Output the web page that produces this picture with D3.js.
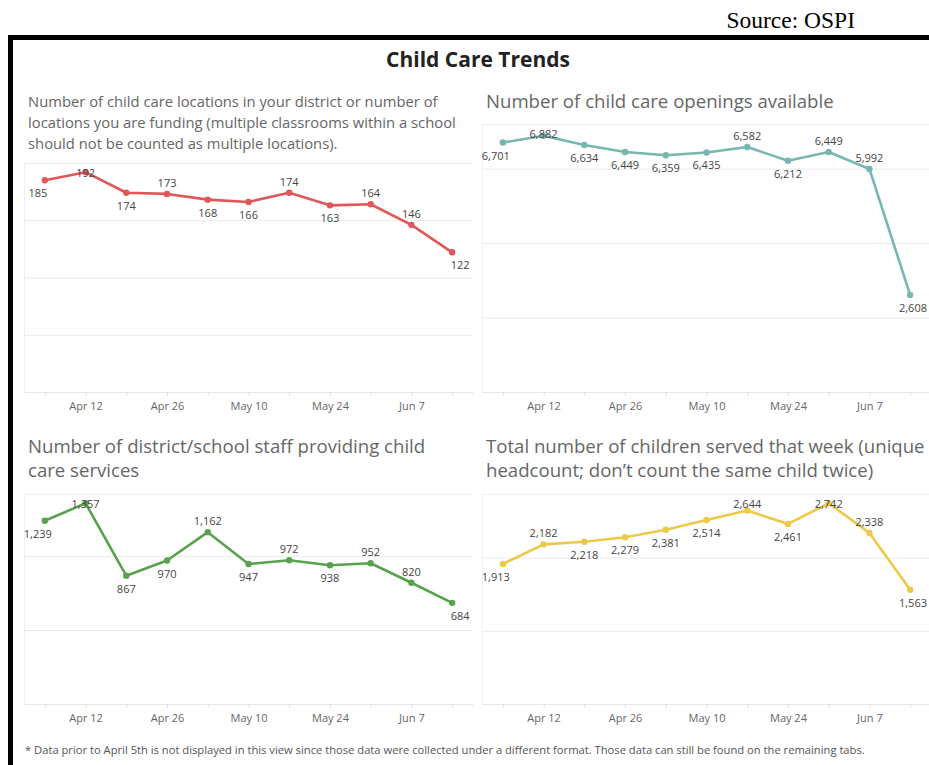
<!DOCTYPE html>
<html>
<head>
<meta charset="utf-8">
<script src="https://cdn.jsdelivr.net/npm/d3@7"></script>
<style>
  body { margin: 0; background: #fff; }
  svg { display: block; font-family: "Open Sans", sans-serif; }
</style>
</head>
<body>
<div id="chart"></div>
<script>
// week-of dates for each report (weekly, starting Apr 5)
var weeks = ["2020-04-05", "2020-04-12", "2020-04-19", "2020-04-26", "2020-05-03", "2020-05-10",
             "2020-05-17", "2020-05-24", "2020-05-31", "2020-06-07", "2020-06-14"];
// labelled ticks on the date axis
var tickDates = ["2020-04-12", "2020-04-26", "2020-05-10", "2020-05-24", "2020-06-07"];

var locations = [185, 192, 174, 173, 168, 166, 174, 163, 164, 146, 122];
var openings  = [6701, 6882, 6634, 6449, 6359, 6435, 6582, 6212, 6449, 5992, 2608];
var staff     = [1239, 1357, 867, 970, 1162, 947, 972, 938, 952, 820, 684];
var children  = [1913, 2182, 2218, 2279, 2381, 2514, 2644, 2461, 2742, 2338, 1563];

var parse = d3.timeParse("%Y-%m-%d");
var dates = weeks.map(parse);
var tickSet = tickDates.map(function(d) { return +parse(d); });
var fmtDate = d3.timeFormat("%b %-d");
var fmtNum = d3.format(",");

var width = 929, height = 765;

var svg = d3.select("#chart").append("svg")
    .attr("width", width)
    .attr("height", height);

// heavy black frame (top + left)
svg.append("path")
    .attr("d", "M10.5," + height + " V37.5 H" + width)
    .attr("fill", "none")
    .attr("stroke", "#000")
    .attr("stroke-width", 5);

svg.append("text")
    .attr("x", 855)
    .attr("y", 28)
    .attr("text-anchor", "end")
    .style("font-family", "'Liberation Serif', 'Times New Roman', serif")
    .style("font-size", "23.5px")
    .attr("fill", "#000")
    .text("Source: OSPI");

svg.append("text")
    .attr("x", 478)
    .attr("y", 67)
    .attr("text-anchor", "middle")
    .style("font-size", "21px")
    .style("font-weight", "bold")
    .attr("fill", "#222")
    .text("Child Care Trends");

var panels = [
  { values: locations, color: "#e15759", x0: 24, x1: 473, top: 163, bottom: 392, max: 200, step: 50,
    title: ["Number of child care locations in your district or number of",
            "locations you are funding (multiple classrooms within a school",
            "should not be counted as multiple locations)."],
    tx: 28, ty: 106.5, fs: 14.8, lh: 21 },
  { values: openings, color: "#76b7b2", x0: 482, x1: 931, top: 124, bottom: 392, max: 7200, step: 2000,
    title: ["Number of child care openings available"],
    tx: 486, ty: 108, fs: 18.6, lh: 23 },
  { values: staff, color: "#59a14f", x0: 24, x1: 473, top: 494, bottom: 704, max: 1420, step: 500,
    title: ["Number of district/school staff providing child", "care services"],
    tx: 28, ty: 452.5, fs: 18.6, lh: 24 },
  { values: children, color: "#edc948", x0: 482, x1: 931, top: 494, bottom: 704, max: 2870, step: 1000,
    title: ["Total number of children served that week (unique",
            "headcount; don\u2019t count the same child twice)"],
    tx: 486, ty: 452.5, fs: 18.6, lh: 24 }
];

panels.forEach(function(p) {
  var g = svg.append("g");
  var n = dates.length;

  var x = d3.scaleTime()
      .domain([d3.timeHour.offset(dates[0], -86), d3.timeHour.offset(dates[n - 1], 86)])
      .range([p.x0, p.x1]);
  var y = d3.scaleLinear()
      .domain([0, p.max])
      .range([p.bottom, p.top]);

  // panel title
  var t = g.append("text")
      .attr("fill", "#666")
      .style("font-size", p.fs + "px");
  p.title.forEach(function(line, i) {
    t.append("tspan").attr("x", p.tx).attr("y", p.ty + i * p.lh).text(line);
  });

  // gridlines
  g.append("g")
      .attr("transform", "translate(" + p.x0 + ",0)")
      .call(d3.axisLeft(y).tickValues(d3.range(p.step, p.max + 1, p.step))
        .tickSize(-(p.x1 - p.x0)).tickFormat(""))
      .call(function(a) {
        a.select(".domain").attr("stroke", "#efefef");
        a.selectAll(".tick line").attr("stroke", "#ebebeb");
      });

  // date axis
  g.append("g")
      .attr("transform", "translate(0," + p.bottom + ")")
      .call(d3.axisBottom(x).tickValues(dates).tickSize(4).tickSizeOuter(0).tickPadding(6)
        .tickFormat(function(d) { return tickSet.indexOf(+d) >= 0 ? fmtDate(d) : ""; }))
      .call(function(a) {
        a.select(".domain").attr("stroke", "#e6e6e6");
        a.selectAll(".tick line").attr("stroke", "#e2e2e2");
        a.selectAll(".tick text").attr("fill", "#666").style("font-size", "11px")
          .style("font-family", "'Open Sans', sans-serif");
      });

  var pts = p.values.map(function(v, i) { return { date: dates[i], value: v }; });

  g.append("path")
      .datum(pts)
      .attr("fill", "none")
      .attr("stroke", p.color)
      .attr("stroke-width", 2.6)
      .attr("stroke-linejoin", "round")
      .attr("d", d3.line()
        .x(function(d) { return x(d.date); })
        .y(function(d) { return y(d.value); }));

  g.selectAll(".dot")
      .data(pts).enter().append("circle")
      .attr("class", "dot")
      .attr("cx", function(d) { return x(d.date); })
      .attr("cy", function(d) { return y(d.value); })
      .attr("r", 3.2)
      .attr("fill", p.color);

  // labels go above a point that sits above its neighbours, below otherwise
  g.selectAll(".lbl")
      .data(pts).enter().append("text")
      .attr("class", "lbl")
      .attr("text-anchor", "middle")
      .attr("fill", "#444")
      .style("font-size", "11px")
      .attr("y", function(d, i) {
        var py = y(d.value), above;
        if (i === 0) above = py < y(pts[1].value);
        else if (i === n - 1) above = py < y(pts[n - 2].value);
        else above = py < (y(pts[i - 1].value) + y(pts[i + 1].value)) / 2 - 0.2;
        return above ? Math.max(py - 7, p.top + 14) : py + 17;
      })
      .text(function(d) { return fmtNum(d.value); })
      .attr("x", function(d, i) {
        var dx = i === 0 ? -7 : (i === n - 1 ? 8 : 0);
        var half = this.getComputedTextLength() / 2;
        return Math.min(x(d.date) + dx, width - 2 - half);
      });
});

svg.append("text")
    .attr("x", 25)
    .attr("y", 754)
    .attr("fill", "#555")
    .style("font-size", "11.2px")
    .text("* Data prior to April 5th is not displayed in this view since those data were collected under a different format. Those data can still be found on the remaining tabs.");
</script>
</body>
</html>
